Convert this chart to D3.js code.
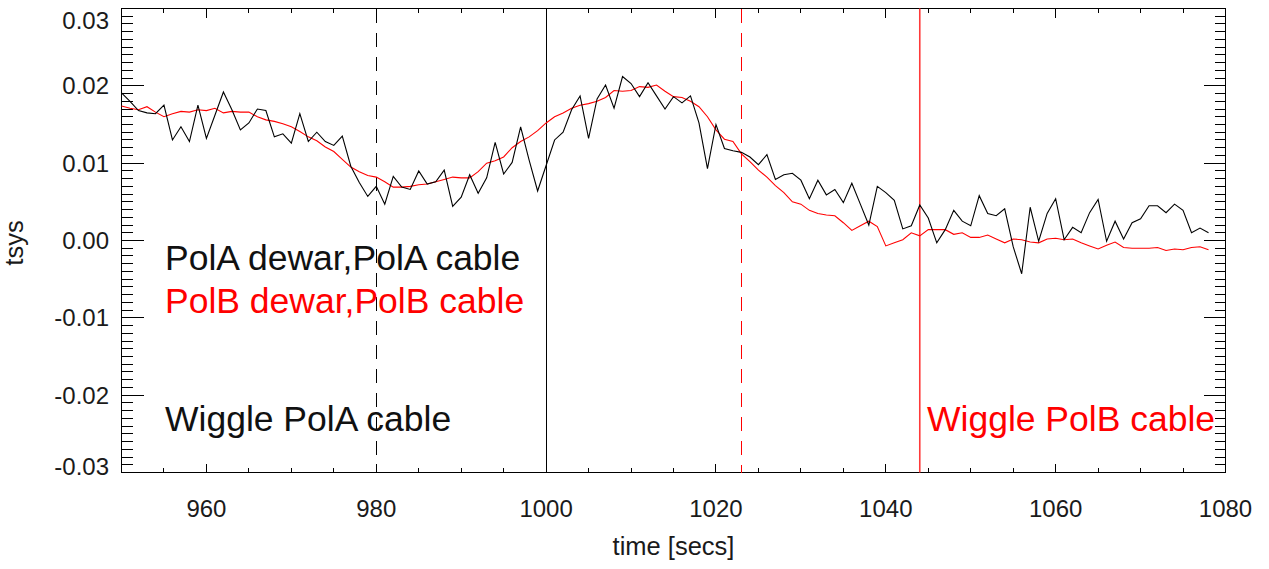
<!DOCTYPE html>
<html>
<head>
<meta charset="utf-8">
<script src="https://cdn.jsdelivr.net/npm/d3@7"></script>
<style>
  body { margin: 0; background: #fff; }
  svg { display: block; font-family: "Liberation Sans", Helvetica, Arial, sans-serif; }
  .label { fill: #1a1a1a; font-size: 24px; }
  .title { font-size: 25.5px; }
  .note { font-size: 35.5px; }
</style>
</head>
<body>
<div id="graph-container"></div>
<script>
// one sample per second
const times = d3.range(950, 1079);

const polA = [
  0.0191, 0.0180, 0.0168, 0.0165, 0.0164, 0.0175, 0.0130, 0.0147, 0.0128, 0.0175,
  0.0132, 0.0162, 0.0192, 0.0169, 0.0143, 0.0152, 0.0170, 0.0168, 0.0134, 0.0138,
  0.0126, 0.0164, 0.0128, 0.0140, 0.0128, 0.0123, 0.0135, 0.0096, 0.0075, 0.0057,
  0.0070, 0.0047, 0.0083, 0.0069, 0.0066, 0.0090, 0.0073, 0.0076, 0.0091, 0.0044,
  0.0056, 0.0085, 0.0061, 0.0081, 0.0127, 0.0086, 0.0101, 0.0147, 0.0104, 0.0064,
  0.0097, 0.0130, 0.0140, 0.0169, 0.0187, 0.0132, 0.0183, 0.0201, 0.0171, 0.0212,
  0.0203, 0.0186, 0.0204, 0.0187, 0.0170, 0.0186, 0.0178, 0.0187, 0.0152, 0.0093,
  0.0150, 0.0119, 0.0116, 0.0114, 0.0108, 0.0098, 0.0111, 0.0079, 0.0085, 0.0087,
  0.0078, 0.0054, 0.0078, 0.0059, 0.0066, 0.0049, 0.0074, 0.0047, 0.0020, 0.0070,
  0.0062, 0.0052, 0.0015, 0.0019, 0.0046, 0.0029, -0.0003, 0.0014, 0.0039, 0.0025,
  0.0019, 0.0058, 0.0035, 0.0032, 0.0041, -0.0008, -0.0043, 0.0043, -0.0001, 0.0035,
  0.0054, 0.0001, 0.0017, 0.0010, 0.0036, 0.0053, -0.0001, 0.0025, 0.0002, 0.0023,
  0.0028, 0.0045, 0.0045, 0.0036, 0.0047, 0.0039, 0.0010, 0.0016, 0.0010
];

const polB = [
  0.0174, 0.0171, 0.0169, 0.0173, 0.0166, 0.0160, 0.0164, 0.0167, 0.0166, 0.0169,
  0.0168, 0.0171, 0.0165, 0.0167, 0.0166, 0.0166, 0.0160, 0.0156, 0.0154, 0.0151,
  0.0147, 0.0141, 0.0134, 0.0129, 0.0121, 0.0115, 0.0105, 0.0095, 0.0089, 0.0084,
  0.0082, 0.0076, 0.0069, 0.0069, 0.0070, 0.0072, 0.0073, 0.0076, 0.0079, 0.0082,
  0.0081, 0.0081, 0.0089, 0.0100, 0.0103, 0.0108, 0.0120, 0.0128, 0.0134, 0.0142,
  0.0152, 0.0160, 0.0165, 0.0171, 0.0175, 0.0177, 0.0180, 0.0185, 0.0194, 0.0193,
  0.0194, 0.0199, 0.0198, 0.0201, 0.0193, 0.0186, 0.0185, 0.0180, 0.0173, 0.0160,
  0.0143, 0.0131, 0.0128, 0.0112, 0.0102, 0.0091, 0.0082, 0.0071, 0.0062, 0.0050,
  0.0047, 0.0039, 0.0035, 0.0033, 0.0032, 0.0023, 0.0013, 0.0019, 0.0025, 0.0018,
  -0.0007, -0.0003, 0.0001, 0.0010, 0.0006, 0.0014, 0.0014, 0.0014, 0.0008, 0.0010,
  0.0004, 0.0004, 0.0007, 0.0002, -0.0003, 0.0002, 0.0001, -0.0002, -0.0003, 0.0002,
  0.0003, 0.0001, 0.0002, -0.0003, -0.0007, -0.0011, -0.0006, -0.0002, -0.0009, -0.0010,
  -0.0010, -0.0010, -0.0009, -0.0013, -0.0011, -0.0012, -0.0009, -0.0008, -0.0012
];

const xMajor = [960, 980, 1000, 1020, 1040, 1060, 1080];
const yMajor = [-0.03, -0.02, -0.01, 0, 0.01, 0.02, 0.03];

// event times: polA dashed, polA wiggle, polB dashed, polB wiggle
const markerTimes = [980, 1000, 1023, 1044];

const notes = ['PolA dewar,PolA cable', 'PolB dewar,PolB cable', 'Wiggle PolA cable', 'Wiggle PolB cable'];

const info = {
  width: 1269, height: 569,
  left: 121.5, right: 1225.5, top: 8.5, bottom: 472.5
};

const x = d3.scaleLinear().domain([950, 1080]).range([info.left, info.right]);
const y = d3.scaleLinear().domain([-0.03, 0.03]).range([info.bottom, info.top]);

const svg = d3.select('#graph-container')
              .append('svg')
              .attr('width', info.width)
              .attr('height', info.height);

// ticks only, pointing inward; labels are drawn separately
function ticks(axis, values, size, transform) {
  svg.append('g')
     .attr('transform', transform)
     .attr('shape-rendering', 'crispEdges')
     .call(axis.tickValues(values).tickSize(size).tickFormat('').offset(0))
     .call(g => g.select('.domain').remove())
     .call(g => g.selectAll('line').attr('stroke', '#000'));
}

const xMinor = d3.range(950, 1081, 5);
const yMinor = d3.range(-30, 31).map(i => i / 1000);

ticks(d3.axisBottom(x), xMinor, -4.5, `translate(0,${info.bottom})`);
ticks(d3.axisBottom(x), xMajor, -9, `translate(0,${info.bottom})`);
ticks(d3.axisTop(x), xMinor, -4.5, `translate(0,${info.top})`);
ticks(d3.axisTop(x), xMajor, -9, `translate(0,${info.top})`);
ticks(d3.axisLeft(y), yMinor, -11, `translate(${info.left},0)`);
ticks(d3.axisLeft(y), yMajor, -22, `translate(${info.left},0)`);
ticks(d3.axisRight(y), yMinor, -11, `translate(${info.right},0)`);
ticks(d3.axisRight(y), yMajor, -22, `translate(${info.right},0)`);

// frame
svg.append('rect')
   .attr('x', info.left)
   .attr('y', info.top)
   .attr('width', info.right - info.left)
   .attr('height', info.bottom - info.top)
   .attr('fill', 'none')
   .attr('stroke', '#000')
   .attr('shape-rendering', 'crispEdges');

// tick labels
svg.selectAll('.xlabel')
   .data(xMajor)
   .enter()
   .append('text')
   .attr('class', 'label')
   .attr('text-anchor', 'middle')
   .attr('x', d => x(d))
   .attr('y', 517)
   .text(d => d);

svg.selectAll('.ylabel')
   .data(yMajor)
   .enter()
   .append('text')
   .attr('class', 'label')
   .attr('text-anchor', 'end')
   .attr('x', 109)
   // end labels are pulled inside the frame
   .attr('y', d => Math.min(Math.max(y(d), 20), 466) + 8.5)
   .text(d => d.toFixed(2));

// axis titles
svg.append('text')
   .attr('class', 'label title')
   .attr('text-anchor', 'middle')
   .attr('x', (info.left + info.right) / 2)
   .attr('y', 555)
   .text('time [secs]');

svg.append('text')
   .attr('class', 'label title')
   .attr('text-anchor', 'middle')
   .attr('transform', 'translate(23,243) rotate(-90)')
   .text('tsys');

// event markers
const markerStyle = [
  { color: '#000', dash: '14,10', width: 1, crisp: true },
  { color: '#000', dash: null, width: 1, crisp: true },
  { color: '#ff0000', dash: '14,10', width: 1, crisp: true },
  { color: '#ff3a3a', dash: null, width: 1.6, crisp: false }
];
markerTimes.forEach((t, i) => {
  let s = markerStyle[i];
  svg.append('line')
     .attr('x1', x(t))
     .attr('x2', x(t))
     .attr('y1', info.top)
     .attr('y2', info.bottom)
     .attr('stroke', s.color)
     .attr('stroke-width', s.width)
     .attr('stroke-dasharray', s.dash)
     .attr('shape-rendering', s.crisp ? 'crispEdges' : null);
});

// series
const line = d3.line()
               .x((d, i) => x(times[i]))
               .y(d => y(d));

svg.append('path')
   .attr('d', line(polB))
   .attr('fill', 'none')
   .attr('stroke', '#ff0000')
   .attr('stroke-width', 1.1);

svg.append('path')
   .attr('d', line(polA))
   .attr('fill', 'none')
   .attr('stroke', '#000')
   .attr('stroke-width', 1.1);

// annotations
const notePos = [
  { x: 165, y: 270, color: '#111' },
  { x: 165, y: 313, color: '#ff0000' },
  { x: 165, y: 431, color: '#111' },
  { x: 927, y: 431, color: '#ff0000' }
];
notes.forEach((n, i) => {
  svg.append('text')
     .attr('class', 'note')
     .attr('x', notePos[i].x)
     .attr('y', notePos[i].y)
     .attr('fill', notePos[i].color)
     .text(n);
});
</script>
</body>
</html>
